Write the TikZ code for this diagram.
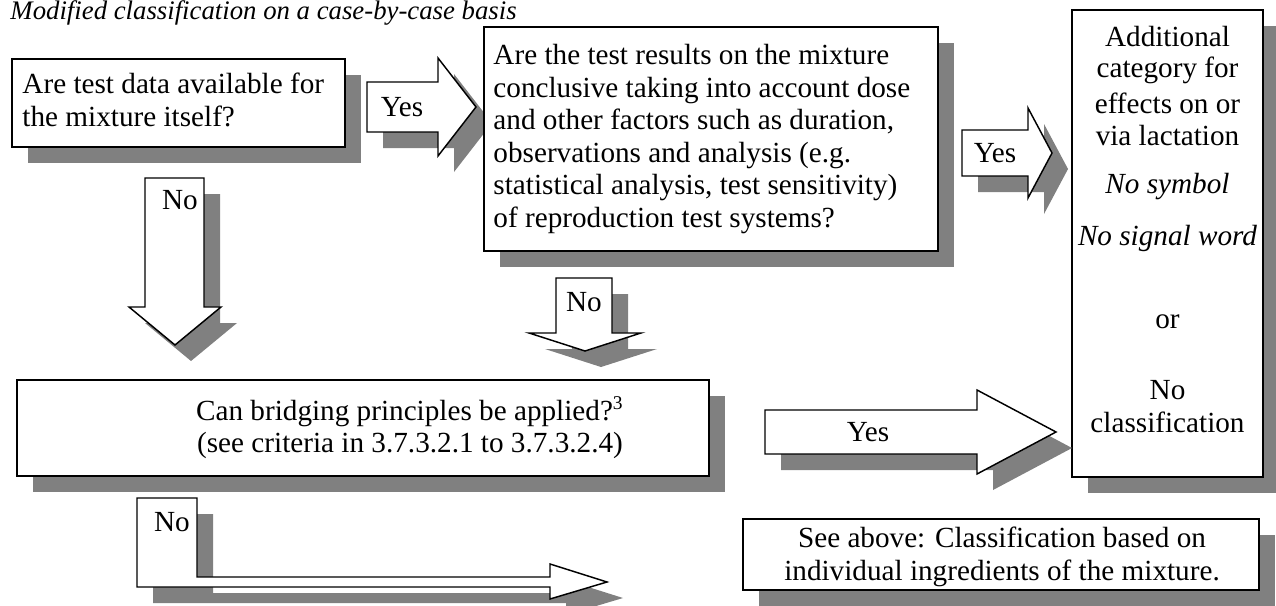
\documentclass[tikz,border=0pt]{standalone}
\usepackage{fontspec}
\setmainfont{Liberation Serif}
\usetikzlibrary{shadows,fit}
\definecolor{shd}{RGB}{128,128,128}
\tikzset{
  shadowed/.style={drop shadow={shadow xshift=6.58pt,shadow yshift=-6.58pt,opacity=1,fill=shd}},
  boxframe/.style={draw=black,fill=white,line width=0.6pt,inner sep=0pt,shadowed},
  blockarrow/.style={draw=black,fill=white,line width=0.6pt,line join=miter,shadowed},
  txt/.style={inner sep=0pt,font=\fontsize{12}{13.4}\selectfont},
  itxt/.style={inner sep=0pt,font=\fontsize{12}{13.4}\selectfont\itshape}
}
\begin{document}
\begin{tikzpicture}[x=0.411pt,y=-0.411pt]
\useasboundingbox (0,0) rectangle (1276,606);
% title
\node[inner sep=0pt,anchor=base west,font=\fontsize{11}{13}\selectfont\itshape] (title) at (10,20) {Modified classification on a case-by-case basis};
% box A
\node[boxframe,fit={(12,59)(345,147)}] (A) {};
\node[txt,anchor=west,align=left] (Atext) at (22,100) {Are test data available for\\the mixture itself?};
% Yes arrow 1
\draw[blockarrow] (367,82) -- (438,82) -- (438,58) -- (476,107) -- (438,156) -- (438,132) -- (367,132) -- cycle;
\node[txt] (yes1) at (402,107) {Yes};
% box B
\node[boxframe,fit={(484,27)(938,251)}] (B) {};
\node[txt,anchor=west,align=left] (Btext) at (493,139) {Are the test results on the mixture\\conclusive taking into account dose\\and other factors such as duration,\\observations and analysis (e.g.\\statistical analysis, test sensitivity)\\of reproduction test systems?};
% Yes arrow 2
\draw[blockarrow] (962,130) -- (1028,130) -- (1028,108) -- (1052,153) -- (1028,198) -- (1028,176) -- (962,176) -- cycle;
\node[txt] (yes2) at (995,153) {Yes};
% right box C
\node[boxframe,fit={(1072,10)(1263,477)}] (C) {};
\node[txt] (c1) at (1167.5,37) {Additional};
\node[txt] (c2) at (1167.5,70) {category for};
\node[txt] (c3) at (1167.5,103) {effects on or};
\node[txt] (c4) at (1167.5,136) {via lactation};
\node[itxt] (c5) at (1167.5,187) {No symbol};
\node[itxt] (c6) at (1167.5,238) {No signal word};
\node[txt] (c7) at (1167.5,322) {or};
\node[txt] (c8) at (1167.5,390) {No};
\node[txt] (c9) at (1167.5,422) {classification};
% No arrow left
\draw[blockarrow] (145,178) -- (204,178) -- (204,307) -- (221,307) -- (175,345) -- (129,307) -- (145,307) -- cycle;
\node[txt] (no1) at (180,200) {No};
% No arrow small
\draw[blockarrow] (556,278) -- (612,278) -- (612,333) -- (641,333) -- (585,351) -- (529,333) -- (556,333) -- cycle;
\node[txt] (no2) at (584,302) {No};
% bridging box D
\node[boxframe,fit={(17,380)(709,476)}] (D) {};
\node[txt,align=center] (Dtext) at (410,428) {Can bridging principles be applied?\textsuperscript{3}\\(see criteria in 3.7.3.2.1 to 3.7.3.2.4)};
% big Yes arrow
\draw[blockarrow] (765,410) -- (977,410) -- (977,390) -- (1056,432) -- (977,474) -- (977,454) -- (765,454) -- cycle;
\node[txt] (yes3) at (868,432) {Yes};
% L arrow
\draw[blockarrow] (137,498) -- (197,498) -- (197,577) -- (550,577) -- (550,564) -- (607,582) -- (550,599) -- (550,587) -- (137,587) -- cycle;
\node[txt] (no3) at (172,522) {No};
% box E
\node[boxframe,fit={(743,519)(1259,590)}] (E) {};
\node[txt,align=center] (Etext) at (1002,557) {See above: Classification based on\\individual ingredients of the mixture.};
\end{tikzpicture}
\end{document}
